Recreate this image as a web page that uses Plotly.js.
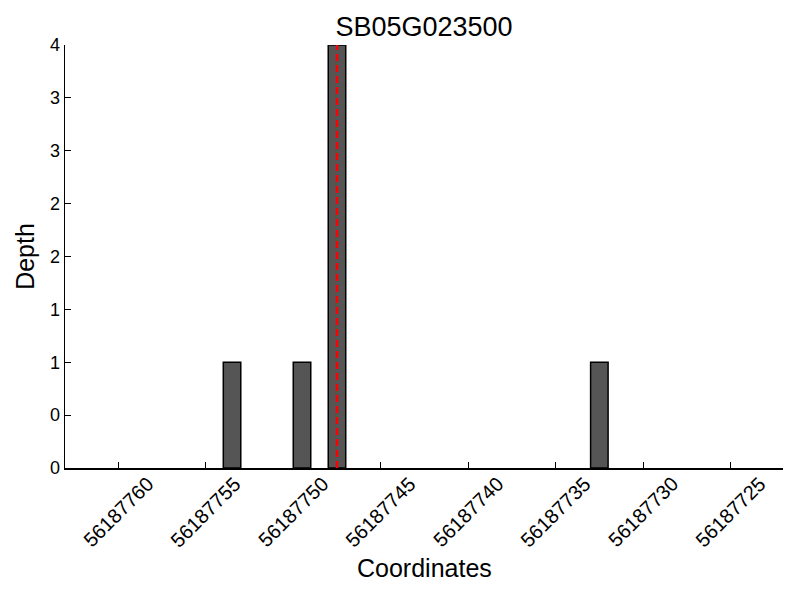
<!DOCTYPE html>
<html><head><meta charset="utf-8">
<script src="https://cdn.plot.ly/plotly-3.0.1.min.js"></script>
<style>body{margin:0;padding:0;background:#fff}</style>
</head><body>
<div id="chart" style="width:800px;height:600px"></div>
<script>
const chartTitle = "SB05G023500";
const xTitle = "Coordinates";
const yTitle = "Depth";
const coordinates = [56187753, 56187749, 56187747, 56187732];
const depth = [1, 1, 4, 1];
const siteCoord = 56187747.5;
const xTickVals = [56187760, 56187755, 56187750, 56187745, 56187740, 56187735, 56187730, 56187725];
const xTickText = ["56187760", "56187755", "56187750", "56187745", "56187740", "56187735", "56187730", "56187725"];
const yTickVals = [0, 0.5, 1, 1.5, 2, 2.5, 3, 3.5, 4];
const yTickText = ["0", "0", "1", "1", "2", "2", "3", "3", "4"];
const xRange = [56187763.05, 56187722.0];
const yRange = [0, 4];

const font = "Liberation Sans, Arial, sans-serif";
const traces = [
  {
    type: "bar", x: coordinates, y: depth, width: 1, offset: 0,
    marker: {color: "#555555", line: {color: "#000000", width: 1.5}},
    hoverinfo: "x+y", showlegend: false
  },
  {
    type: "scatter", mode: "lines", x: [siteCoord, siteCoord], y: yRange,
    line: {color: "#ff0000", width: 2.5, dash: "7px,4px"}, showlegend: false
  }
];
const annotations = xTickVals.map((v, i) => ({
  x: v, xref: "x", y: 0, yref: "paper", yshift: -2,
  text: xTickText[i], textangle: -45, showarrow: false,
  xanchor: "center", yanchor: "top", font: {size: 20, family: font, color: "#000"}
}));
annotations.push({
  x: 0.5, xref: "paper", y: -0.236, yref: "paper", text: xTitle, showarrow: false,
  xanchor: "center", yanchor: "middle", font: {size: 25, family: font, color: "#000"}
});
const layout = {
  width: 800, height: 600,
  margin: {l: 65, r: 17, t: 45, b: 132},
  paper_bgcolor: "#ffffff", plot_bgcolor: "#ffffff",
  font: {family: font, color: "#000000"},
  title: {text: chartTitle, font: {size: 27, family: font}, xref: "paper", x: 0.5, xanchor: "center", y: 1 - 27 / 600, yanchor: "middle"},
  xaxis: {
    range: xRange, tickvals: xTickVals, showticklabels: false,
    ticks: "inside", ticklen: 6, tickcolor: "#000", showgrid: false, zeroline: false,
    showline: true, linecolor: "#000", linewidth: 1.5, mirror: false
  },
  yaxis: {
    range: yRange, tickvals: yTickVals, ticktext: yTickText,
    ticks: "inside", ticklen: 6, tickcolor: "#000", showgrid: false, zeroline: false,
    showline: true, linecolor: "#000", linewidth: 1.5,
    tickfont: {size: 18}, title: {text: yTitle, font: {size: 25}, standoff: 8}
  },
  annotations: annotations,
  bargap: 0
};
Plotly.newPlot("chart", traces, layout, {displayModeBar: false, staticPlot: true});
</script>
</body></html>
